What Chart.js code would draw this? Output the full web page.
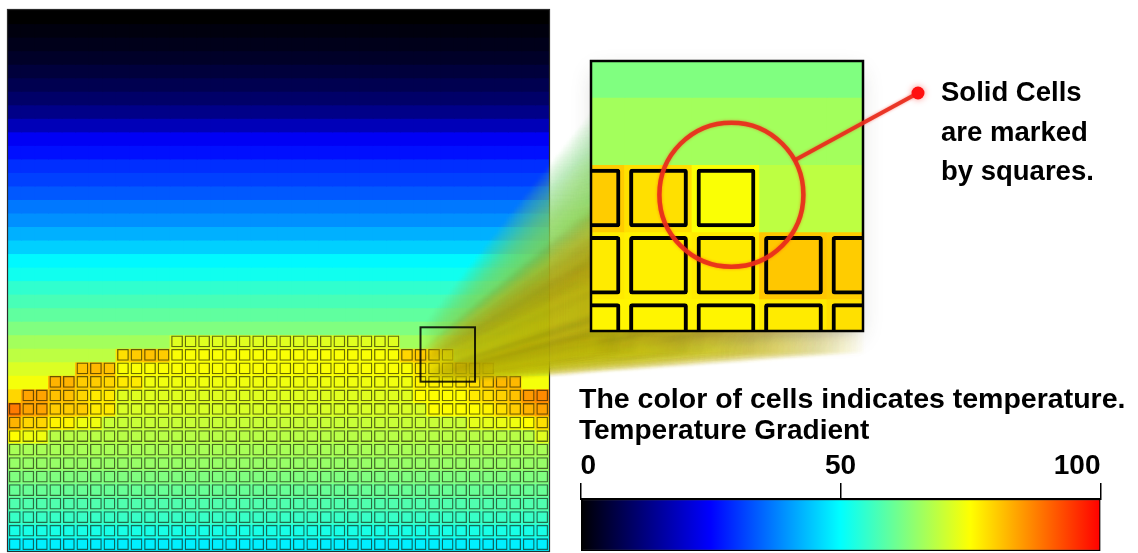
<!DOCTYPE html>
<html>
<head>
<meta charset="utf-8">
<script src="https://cdn.jsdelivr.net/npm/chart.js@4.4.1/dist/chart.umd.min.js"></script>
<style>
  html, body { margin: 0; padding: 0; background: #fff; }
  #stage { position: relative; width: 1138px; height: 553px; overflow: hidden;
           font-family: "Liberation Sans", Arial, sans-serif; font-weight: bold; color: #000; }
  #stage canvas { position: absolute; }
  .note { position: absolute; white-space: nowrap; line-height: 1; z-index: 3; }
</style>
</head>
<body>
<div id="stage">
  <canvas id="mainChart" width="1138" height="553" style="left:0;top:0;z-index:1"></canvas>
  <canvas id="zoomChart" width="578" height="360" style="left:560px;top:0;z-index:2"></canvas>
  <canvas id="scaleChart" width="578" height="113" style="left:560px;top:440px;z-index:2"></canvas>
  <div class="note" style="left:941px;top:77.5px;font-size:27.5px">Solid Cells</div>
  <div class="note" style="left:941px;top:117.5px;font-size:27.5px">are marked</div>
  <div class="note" style="left:941px;top:156.5px;font-size:27.5px">by squares.</div>
  <div class="note" style="left:579px;top:384px;font-size:28.5px">The color of cells indicates temperature.</div>
  <div class="note" style="left:579px;top:416px;font-size:28px">Temperature Gradient</div>
</div>
<script>
// grid size (columns x rows), row 0 is the top of the domain
var COLS = 40, ROWS = 40;
var FIRST_SOLID_ROW = 24;

// fluid temperature per row, rows 0..28
var fluidRowTemp = [0, 1.4, 2.5, 3.9, 5.9, 7.8, 10.2, 13.3, 18, 24,
                    26.5, 29.5, 31.3, 33.6, 36.8, 39.1, 42.3, 45.4, 49.4, 51.6,
                    54.7, 57.1, 59.4, 62.5, 66, 68.5, 71.5, 74, 79];

// solid temperature per row (middle of the block), rows 24..39
var solidRowTemp = [72, 74.5, 74.5, 73.5, 72, 71.2, 69.6, 68,
                    66.5, 64.9, 62.5, 60.2, 57.8, 55.5, 52.4, 48.5];

// first and last solid column for rows 24..39
var solidFirstCol = [12, 8, 5, 3, 1, 0, 0, 0, 0, 0, 0, 0, 0, 0, 0, 0];
var solidLastCol  = [28, 32, 35, 37, 39, 39, 39, 39, 39, 39, 39, 39, 39, 39, 39, 39];

// hotter cells along the surface and the sides: [row, col, temperature]
var cellTemp = [
  [25, 8, 78], [25, 9, 80], [25, 10, 81], [25, 11, 80],
  [26, 5, 81], [26, 6, 82], [26, 7, 81],
  [27, 3, 82.5], [27, 4, 82.5], [27, 5, 80], [27, 6, 80], [27, 7, 79], [27, 8, 77], [27, 9, 77],
  [28, 1, 84], [28, 2, 84], [28, 3, 81], [28, 4, 81], [28, 5, 79], [28, 6, 77], [28, 7, 77],
  [29, 0, 88], [29, 1, 84], [29, 2, 84], [29, 3, 80], [29, 4, 80], [29, 5, 80], [29, 6, 77], [29, 7, 77],
  [30, 0, 82.5], [30, 1, 79], [30, 2, 79], [30, 3, 76], [30, 4, 76], [30, 5, 73.5], [30, 6, 73.5],
  [31, 0, 75], [31, 1, 73.5], [31, 2, 73.5],
  [25, 29, 79], [25, 30, 80], [25, 31, 78],
  [26, 30, 77], [26, 31, 76.5], [26, 32, 77], [26, 33, 80.5], [26, 34, 80], [26, 35, 79],
  [27, 30, 76], [27, 31, 76], [27, 32, 76], [27, 33, 77], [27, 34, 78], [27, 35, 80], [27, 36, 82], [27, 37, 82],
  [28, 30, 75], [28, 31, 75], [28, 32, 75], [28, 33, 75], [28, 34, 77], [28, 35, 78], [28, 36, 79.5],
  [28, 37, 81], [28, 38, 85], [28, 39, 86.5],
  [29, 31, 75], [29, 32, 75], [29, 33, 75], [29, 34, 75], [29, 35, 76], [29, 36, 78], [29, 37, 80],
  [29, 38, 82.5], [29, 39, 84],
  [30, 34, 72.5], [30, 35, 72.5], [30, 36, 73], [30, 37, 73.5], [30, 38, 75], [30, 39, 78],
  [31, 39, 72]
];

// magnified part of the grid (column / row units)
var zoomWindow = { xMin: 30.5, xMax: 34.53, yMin: 23.46, yMax: 27.48 };
// red ring in the magnified view
var calloutAt = { x: 32.58, y: 25.45 };

// color bar
var scaleRange = [0, 100];
var scaleStep = 50;

// page placement of the magnified view and the callout dot
var INSET = { left: 591, top: 61, width: 272, height: 270 };
var ZOOM_CANVAS = { left: 560, top: 0, width: 578, height: 360 };
var DOT = { x: 918, y: 93 };

// jet-like palette: black -> blue -> cyan -> yellow -> red
var jetStops = [[0, [0, 0, 0]], [25, [0, 0, 255]], [50, [0, 255, 255]], [75, [255, 255, 0]], [100, [255, 0, 0]]];

function tempColor(t) {
  for (var i = 1; i < jetStops.length; i++) {
    if (t <= jetStops[i][0] || i === jetStops.length - 1) {
      var a = jetStops[i - 1], b = jetStops[i];
      var f = Math.max(0, Math.min(1, (t - a[0]) / (b[0] - a[0])));
      var c = a[1].map(function (v, k) { return Math.round(v + (b[1][k] - v) * f); });
      return 'rgb(' + c.join(',') + ')';
    }
  }
}

function isSolid(r, c) {
  var i = r - FIRST_SOLID_ROW;
  return i >= 0 && c >= solidFirstCol[i] && c <= solidLastCol[i];
}

// temperature of every cell
var temps = [];
for (var r = 0; r < ROWS; r++) {
  temps.push([]);
  for (var c = 0; c < COLS; c++) {
    temps[r].push(isSolid(r, c) ? solidRowTemp[r - FIRST_SOLID_ROW] : fluidRowTemp[r]);
  }
}
cellTemp.forEach(function (d) { temps[d[0]][d[1]] = d[2]; });

// one floating-bar dataset per row for the fills, plus one for the solid squares (drawn on top)
function cellDatasets(outline) {
  var sets = [];
  for (var r = 0; r < ROWS; r++) {
    sets.push({
      data: temps[r].map(function (t, c) { return { x: c + 0.5, y: [r, r + 1] }; }),
      backgroundColor: temps[r].map(tempColor),
      borderWidth: 0,
      inflateAmount: 0.6,
      barPercentage: 1,
      categoryPercentage: 1,
      grouped: false,
      clip: 0,
      order: 1
    });
  }
  var solid = [];
  for (var r2 = FIRST_SOLID_ROW; r2 < ROWS; r2++) {
    for (var c2 = 0; c2 < COLS; c2++) {
      if (isSolid(r2, c2)) solid.push({ x: c2 + 0.5, y: [r2 + 0.065, r2 + 0.935] });
    }
  }
  sets.push({
    data: solid,
    backgroundColor: 'rgba(0,0,0,0)',
    borderColor: outline.color,
    borderWidth: outline.width,
    borderRadius: outline.radius,
    borderSkipped: false,
    inflateAmount: 0,
    barPercentage: 0.87,
    categoryPercentage: 1,
    grouped: false,
    clip: 0,
    order: 0
  });
  return sets;
}

function lerp(a, b, t) { return a + (b - a) * t; }

// frame, magnifier box and the trail leading to the enlarged view
var magnifierPlugin = {
  id: 'magnifier',
  afterDatasetsDraw: function (chart) {
    var ctx = chart.ctx, a = chart.chartArea, xs = chart.scales.x, ys = chart.scales.y;
    ctx.save();
    ctx.strokeStyle = '#2b2b2b';
    ctx.lineWidth = 1.2;
    ctx.strokeRect(a.left - 0.5, a.top - 0.5, a.width + 1, a.height + 1);
    ctx.restore();

    var bx = xs.getPixelForValue(zoomWindow.xMin), by = ys.getPixelForValue(zoomWindow.yMin);
    var bw = xs.getPixelForValue(zoomWindow.xMax) - bx, bh = ys.getPixelForValue(zoomWindow.yMax) - by;

    var snap = document.createElement('canvas');
    snap.width = Math.round(bw); snap.height = Math.round(bh);
    snap.getContext('2d').drawImage(chart.canvas, bx, by, bw, bh, 0, 0, snap.width, snap.height);

    // soft shadow behind the enlarged view
    ctx.save();
    ctx.shadowColor = 'rgba(60,60,40,0.22)';
    ctx.shadowBlur = 22;
    ctx.shadowOffsetY = 8;
    ctx.fillStyle = '#fff';
    ctx.fillRect(INSET.left + 4, INSET.top + 4, INSET.width - 8, INSET.height - 8);
    ctx.restore();

    var target = { x: INSET.left, y: INSET.top + 50, w: INSET.width, h: INSET.height - 28 };
    ctx.save();
    ctx.filter = 'blur(1.6px) brightness(0.82)';
    var steps = 64;
    for (var i = 1; i <= steps; i++) {
      var t = i / steps;
      ctx.globalAlpha = 0.11 * (1 - 0.55 * t);
      ctx.drawImage(snap, lerp(bx, target.x, t), lerp(by, target.y, t),
                    lerp(bw, target.w, t), lerp(bh, target.h, t));
    }
    ctx.restore();

    ctx.save();
    ctx.strokeStyle = 'rgba(0,0,0,0.85)';
    ctx.lineWidth = 2;
    ctx.strokeRect(bx, by, bw, bh);
    ctx.restore();
  }
};

new Chart(document.getElementById('mainChart'), {
  type: 'bar',
  data: { datasets: cellDatasets({ color: 'rgba(20,20,0,0.62)', width: 1.3, radius: 0 }) },
  options: {
    responsive: false,
    animation: false,
    events: [],
    layout: { padding: { left: 8, top: 10, right: 589, bottom: 2 } },
    plugins: { legend: { display: false }, tooltip: { enabled: false } },
    scales: {
      x: { type: 'linear', display: false, offset: false, min: 0, max: COLS, ticks: { stepSize: COLS } },
      y: { type: 'linear', display: false, min: 0, max: ROWS, reverse: true, ticks: { stepSize: ROWS } }
    }
  },
  plugins: [magnifierPlugin]
});

// frame of the enlarged view and the red callout
var calloutPlugin = {
  id: 'callout',
  afterDraw: function (chart) {
    var ctx = chart.ctx, a = chart.chartArea, xs = chart.scales.x, ys = chart.scales.y;
    ctx.save();
    ctx.strokeStyle = '#000';
    ctx.lineWidth = 2.5;
    ctx.strokeRect(a.left, a.top, a.width, a.height);

    var cx = xs.getPixelForValue(calloutAt.x), cy = ys.getPixelForValue(calloutAt.y);
    var dx = DOT.x - ZOOM_CANVAS.left, dy = DOT.y - ZOOM_CANVAS.top;
    var len = Math.hypot(dx - cx, dy - cy), R = 72;
    ctx.strokeStyle = 'rgba(232,45,28,0.92)';
    ctx.shadowColor = 'rgba(255,30,20,0.5)';
    ctx.shadowBlur = 3;
    ctx.lineWidth = 4.5;
    ctx.beginPath();
    ctx.arc(cx, cy, R, 0, Math.PI * 2);
    ctx.stroke();
    ctx.lineWidth = 4;
    ctx.beginPath();
    ctx.moveTo(cx + (dx - cx) / len * R, cy + (dy - cy) / len * R);
    ctx.lineTo(dx, dy);
    ctx.stroke();
    ctx.fillStyle = '#ff1010';
    ctx.shadowBlur = 6;
    ctx.beginPath();
    ctx.arc(dx, dy, 6.5, 0, Math.PI * 2);
    ctx.fill();
    ctx.restore();
  }
};

new Chart(document.getElementById('zoomChart'), {
  type: 'bar',
  data: { datasets: cellDatasets({ color: '#000', width: 4, radius: 3 }) },
  options: {
    responsive: false,
    animation: false,
    events: [],
    layout: { padding: {
      left: INSET.left - ZOOM_CANVAS.left,
      top: INSET.top - ZOOM_CANVAS.top,
      right: ZOOM_CANVAS.width - (INSET.left - ZOOM_CANVAS.left) - INSET.width,
      bottom: ZOOM_CANVAS.height - (INSET.top - ZOOM_CANVAS.top) - INSET.height
    } },
    plugins: { legend: { display: false }, tooltip: { enabled: false } },
    scales: {
      x: { type: 'linear', display: false, offset: false, min: zoomWindow.xMin, max: zoomWindow.xMax, ticks: { stepSize: COLS } },
      y: { type: 'linear', display: false, min: zoomWindow.yMin, max: zoomWindow.yMax, reverse: true, ticks: { stepSize: ROWS } }
    }
  },
  plugins: [calloutPlugin]
});

// temperature color bar
new Chart(document.getElementById('scaleChart'), {
  type: 'bar',
  data: {
    labels: ['T'],
    datasets: [{
      data: [scaleRange],
      backgroundColor: function (context) {
        var chart = context.chart, xs = chart.scales.x;
        if (!chart.chartArea || !xs) return '#000';
        var g = chart.ctx.createLinearGradient(xs.getPixelForValue(scaleRange[0]), 0, xs.getPixelForValue(scaleRange[1]), 0);
        jetStops.forEach(function (s) { g.addColorStop(s[0] / 100, 'rgb(' + s[1].join(',') + ')'); });
        return g;
      },
      borderColor: '#000',
      borderWidth: 1.5,
      borderSkipped: false,
      barPercentage: 1,
      categoryPercentage: 1
    }]
  },
  options: {
    indexAxis: 'y',
    responsive: false,
    animation: false,
    events: [],
    layout: { padding: { left: 20.5, right: 37.5, top: 0, bottom: 2 } },
    plugins: { legend: { display: false }, tooltip: { enabled: false } },
    scales: {
      x: {
        type: 'linear', position: 'top', min: scaleRange[0], max: scaleRange[1],
        ticks: { stepSize: scaleStep, align: 'inner', padding: 0, color: '#000',
                 font: { family: 'Liberation Sans', weight: 'bold', size: 28 } },
        grid: { drawOnChartArea: false, drawTicks: true, tickLength: 16, color: '#000', lineWidth: 1.5 },
        border: { display: true, color: '#000', width: 2 },
        afterFit: function (scale) { scale.height = 59; }
      },
      y: { display: false }
    }
  }
});
</script>
</body>
</html>
